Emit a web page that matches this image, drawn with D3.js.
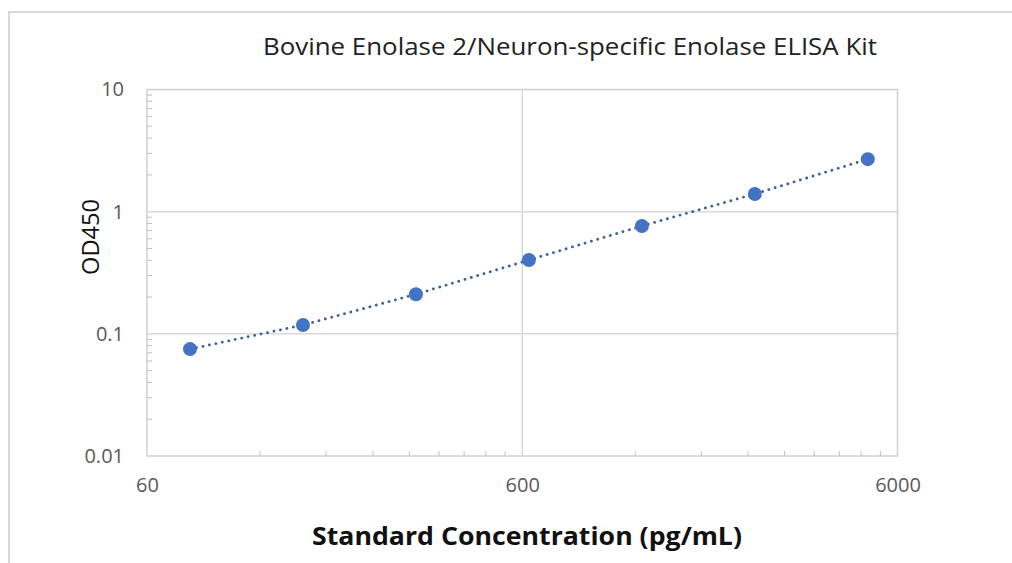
<!DOCTYPE html>
<html>
<head>
<meta charset="utf-8">
<script src="https://cdn.jsdelivr.net/npm/d3@7"></script>
<style>
  body { margin: 0; background: #fff; }
  svg { display: block; font-family: 'Open Sans', 'Noto Sans', sans-serif; }
</style>
</head>
<body>
<div id="chart"></div>
<script>
const concentrations = [78.125, 156.25, 312.5, 625, 1250, 2500, 5000];
const od450 = [0.075, 0.118, 0.211, 0.402, 0.764, 1.397, 2.69];
const xMajorTicks = [60, 600, 6000];
const yMajorTicks = [0.01, 0.1, 1, 10];
const yTickLabels = ['0.01', '0.1', '1', '10'];
const xMinorTicks = [120, 180, 240, 300, 360, 420, 480, 540,
  1200, 1800, 2400, 3000, 3600, 4200, 4800, 5400];
const yMinorTicks = [2, 3, 4, 5, 6, 7, 8, 9].flatMap(m => [0.01 * m, 0.1 * m, m]);

const width = 1012, height = 563;
const plot = { left: 147, right: 897.5, top: 89.5, bottom: 456 };

const svg = d3.select('#chart').append('svg')
  .attr('width', width)
  .attr('height', height);

// chart frame
svg.append('rect')
  .attr('x', 9).attr('y', 12)
  .attr('width', width + 20).attr('height', height + 20)
  .attr('fill', '#fff')
  .attr('stroke', '#d9d9d9')
  .attr('stroke-width', 2);

const x = d3.scaleLog().domain([60, 6000]).range([plot.left, plot.right]);
const y = d3.scaleLog().domain([0.01, 10]).range([plot.bottom, plot.top]);

// gridlines
svg.append('g').selectAll('line')
  .data(yMajorTicks.slice(1, -1))
  .join('line')
  .attr('x1', plot.left).attr('x2', plot.right)
  .attr('y1', d => y(d)).attr('y2', d => y(d))
  .attr('stroke', '#d9d9d9').attr('stroke-width', 1.5);

svg.append('g').selectAll('line')
  .data(xMajorTicks.slice(1, -1))
  .join('line')
  .attr('x1', d => x(d)).attr('x2', d => x(d))
  .attr('y1', plot.top).attr('y2', plot.bottom)
  .attr('stroke', '#d9d9d9').attr('stroke-width', 1.5);

// plot border
svg.append('rect')
  .attr('x', plot.left).attr('y', plot.top)
  .attr('width', plot.right - plot.left)
  .attr('height', plot.bottom - plot.top)
  .attr('fill', 'none')
  .attr('stroke', '#d0d0d0')
  .attr('stroke-width', 1.5);

// minor ticks (pointing inward)
svg.append('g').selectAll('line')
  .data(yMinorTicks.filter(d => d > 0.01 && d < 10))
  .join('line')
  .attr('x1', plot.left).attr('x2', plot.left + 5)
  .attr('y1', d => y(d)).attr('y2', d => y(d))
  .attr('stroke', '#bfbfbf').attr('stroke-width', 1);

svg.append('g').selectAll('line')
  .data(xMinorTicks)
  .join('line')
  .attr('x1', d => x(d)).attr('x2', d => x(d))
  .attr('y1', plot.bottom).attr('y2', plot.bottom - 5)
  .attr('stroke', '#bfbfbf').attr('stroke-width', 1);

// axes labels
const yAxis = d3.axisLeft(y)
  .tickValues(yMajorTicks)
  .tickFormat((d, i) => yTickLabels[i])
  .tickSize(0)
  .tickPadding(23);

svg.append('g')
  .attr('transform', `translate(${plot.left},0)`)
  .call(yAxis)
  .call(g => g.select('.domain').remove())
  .selectAll('text')
  .attr('font-family', "'Open Sans', 'Noto Sans', sans-serif")
  .attr('font-size', 20)
  .attr('fill', '#595959');

const xAxis = d3.axisBottom(x)
  .tickValues(xMajorTicks)
  .tickFormat(d3.format('d'))
  .tickSize(0)
  .tickPadding(22);

svg.append('g')
  .attr('transform', `translate(0,${plot.bottom})`)
  .call(xAxis)
  .call(g => g.select('.domain').remove())
  .selectAll('text')
  .attr('font-family', "'Open Sans', 'Noto Sans', sans-serif")
  .attr('font-size', 20)
  .attr('fill', '#595959');

// dotted connecting line
const line = d3.line()
  .x((d, i) => x(concentrations[i]))
  .y(d => y(d));

svg.append('path')
  .datum(od450)
  .attr('d', line)
  .attr('fill', 'none')
  .attr('stroke', '#3f5f9c')
  .attr('stroke-width', 2.8)
  .attr('stroke-linecap', 'round')
  .attr('stroke-dasharray', '0.1 6.5');

// markers
svg.append('g').selectAll('circle')
  .data(od450)
  .join('circle')
  .attr('cx', (d, i) => x(concentrations[i]))
  .attr('cy', d => y(d))
  .attr('r', 7)
  .attr('fill', '#4472c4');

// titles
svg.append('text')
  .attr('x', 570).attr('y', 55)
  .attr('text-anchor', 'middle')
  .attr('font-size', 23)
  .attr('fill', '#222')
  .attr('textLength', 614)
  .attr('lengthAdjust', 'spacingAndGlyphs')
  .text('Bovine Enolase 2/Neuron-specific Enolase ELISA Kit');

svg.append('text')
  .attr('x', 527).attr('y', 545)
  .attr('text-anchor', 'middle')
  .attr('font-size', 25)
  .attr('font-weight', 'bold')
  .attr('fill', '#111')
  .attr('textLength', 430)
  .attr('lengthAdjust', 'spacingAndGlyphs')
  .text('Standard Concentration (pg/mL)');

svg.append('text')
  .attr('transform', 'translate(99,237) rotate(-90)')
  .attr('text-anchor', 'middle')
  .attr('font-size', 23)
  .attr('fill', '#111')
  .attr('textLength', 76)
  .attr('lengthAdjust', 'spacingAndGlyphs')
  .text('OD450');
</script>
</body>
</html>
